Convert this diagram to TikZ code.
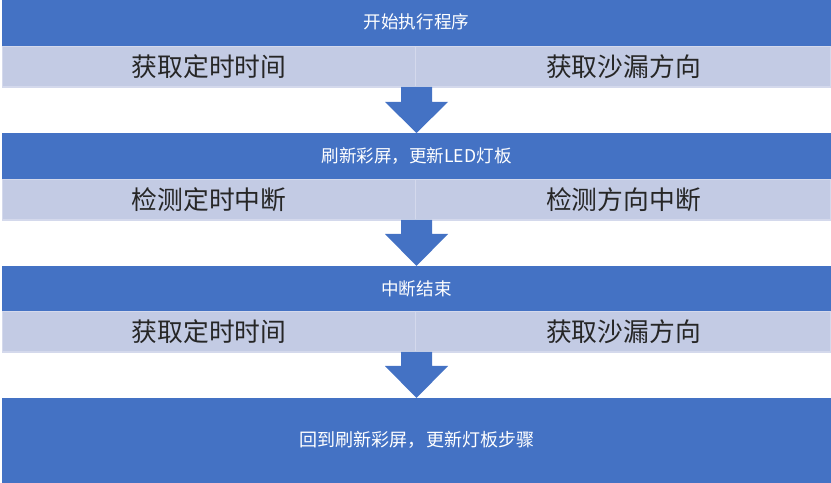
\documentclass[tikz,border=0pt]{standalone}
\usepackage{fontspec}
\setmainfont{Noto Sans CJK SC}
\usepackage{tikz}

\definecolor{azul}{HTML}{4472C4}
\definecolor{celda}{HTML}{C3CBE4}
\definecolor{borde}{HTML}{D4D9EC}
\definecolor{texto}{HTML}{262626}

\begin{document}
\begin{tikzpicture}[x=0.03cm, y=-0.03cm,
		cabecera/.style={text=white, font=\fontsize{15}{18}\selectfont},
		casilla/.style={text=texto, font=\fontsize{22}{26}\selectfont}]

		\useasboundingbox (0,0) rectangle (831,483);

		% Primer bloque
		\fill[azul] (2,0) rectangle (831,46); % Cabecera
		\filldraw[fill=celda, draw=borde, line width=0.9pt] (2.5,46.5) rectangle (415.5,87); % Celda izquierda
		\filldraw[fill=celda, draw=borde, line width=0.9pt] (415.5,46.5) rectangle (831,87); % Celda derecha
		\node[cabecera] (inicio) at (416.5,22) {开始执行程序};
		\node[casilla] (tiempo1) at (209,66.5) {获取定时时间};
		\node[casilla] (arena1) at (623.5,66.5) {获取沙漏方向};

		% Flecha 1
		\fill[azul] (401,87) -- (432,87) -- (432,102) -- (448,102) -- (416.5,133) -- (385,102) -- (401,102) -- cycle;

		% Segundo bloque
		\fill[azul] (2,133) rectangle (831,179); % Cabecera
		\filldraw[fill=celda, draw=borde, line width=0.9pt] (2.5,179.5) rectangle (415.5,220); % Celda izquierda
		\filldraw[fill=celda, draw=borde, line width=0.9pt] (415.5,179.5) rectangle (831,220); % Celda derecha
		\node[cabecera] (refresco) at (416.5,156) {刷新彩屏，更新LED灯板};
		\node[casilla] (deteccion1) at (209,199.5) {检测定时中断};
		\node[casilla] (deteccion2) at (623.5,199.5) {检测方向中断};

		% Flecha 2
		\fill[azul] (401,220) -- (432,220) -- (432,234) -- (448,234) -- (416.5,266) -- (385,234) -- (401,234) -- cycle;

		% Tercer bloque
		\fill[azul] (2,266) rectangle (831,311); % Cabecera
		\filldraw[fill=celda, draw=borde, line width=0.9pt] (2.5,311.5) rectangle (415.5,352); % Celda izquierda
		\filldraw[fill=celda, draw=borde, line width=0.9pt] (415.5,311.5) rectangle (831,352); % Celda derecha
		\node[cabecera] (fin) at (416.5,289) {中断结束};
		\node[casilla] (tiempo2) at (209,331.5) {获取定时时间};
		\node[casilla] (arena2) at (623.5,331.5) {获取沙漏方向};

		% Flecha 3
		\fill[azul] (401,352) -- (432,352) -- (432,366) -- (448,366) -- (416.5,398) -- (385,366) -- (401,366) -- cycle;

		% Bloque final
		\fill[azul] (2,398) rectangle (831,483);
		\node[cabecera, font=\fontsize{15.4}{18}\selectfont] (vuelta) at (417,440) {回到刷新彩屏，更新灯板步骤};

	\end{tikzpicture}
\end{document}
